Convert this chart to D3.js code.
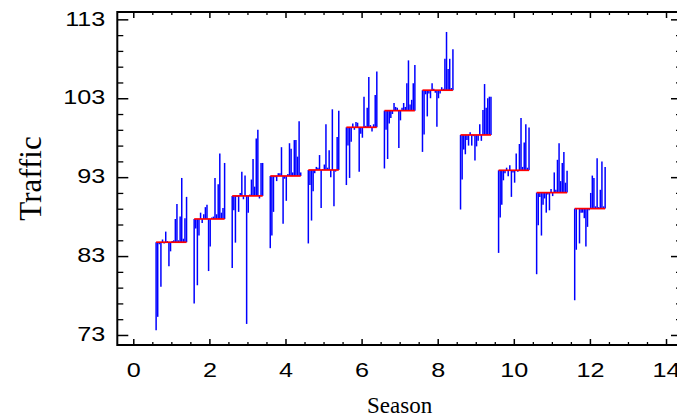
<!DOCTYPE html>
<html>
<head>
<meta charset="utf-8">
<script src="https://cdn.jsdelivr.net/npm/d3@7"></script>
<style>
  html, body { margin: 0; padding: 0; background: #fff; overflow: hidden; }
  svg { display: block; }
  .tick text { font-family: "Liberation Sans", Arial, sans-serif; font-size: 21px; fill: #000; }
  .title { font-family: "Liberation Serif", "Times New Roman", serif; fill: #000; }
</style>
</head>
<body>
<svg id="chart" width="677" height="417"></svg>
<script>
// Seasonal subseries plot: one block of yearly values per season,
// vertical lines from the season mean (red) to each value (blue).

const seasons = [1, 2, 3, 4, 5, 6, 7, 8, 9, 10, 11, 12];
const s1 = [73.6, 75.3, 84.5, 79.1, 85.1, 84.6, 86.1, 84.9, 81.7, 83.6, 84.9, 85.0, 87.7, 89.6, 85.0, 88.0, 92.9, 85.2, 87.8, 90.5];
const s2 = [77.0, 86.5, 79.3, 85.6, 88.5, 87.2, 88.3, 89.2, 89.5, 81.1, 84.2, 87.9, 88.0, 92.9, 88.3, 92.1, 96.0, 88.5, 89.1, 94.8];
const s3 = [81.5, 88.8, 84.7, 90.5, 88.6, 91.0, 93.7, 90.2, 93.2, 74.4, 88.5, 90.8, 92.7, 95.3, 91.8, 97.9, 99.0, 90.3, 94.8, 94.8];
const s4 = [84.0, 85.6, 88.6, 93.0, 92.5, 93.5, 93.5, 96.8, 87.1, 92.8, 90.0, 93.4, 97.3, 96.6, 93.6, 97.7, 97.7, 95.6, 100.1, 93.6];
const s5 = [84.6, 92.0, 87.5, 91.2, 93.5, 94.3, 94.2, 95.8, 89.1, 94.0, 94.6, 99.7, 94.2, 96.4, 93.0, 101.6, 89.3, 93.7, 98.1, 101.4];
const s6 = [92.0, 97.0, 92.9, 97.5, 99.8, 99.0, 100.0, 99.9, 93.7, 98.5, 98.0, 103.2, 99.5, 101.8, 105.7, 99.6, 98.8, 99.7, 103.4, 106.4];
const s7 = [94.1, 99.0, 95.3, 99.8, 100.5, 101.0, 102.4, 101.9, 101.8, 96.7, 100.2, 101.8, 102.4, 101.9, 104.9, 107.8, 102.2, 102.8, 104.9, 107.2];
const s8 = [96.2, 98.4, 103.5, 100.7, 103.6, 103.0, 104.9, 104.2, 103.7, 99.4, 103.0, 103.6, 104.4, 104.2, 108.0, 111.4, 106.7, 108.0, 104.3, 109.2];
const s9 = [88.9, 92.7, 96.5, 95.9, 97.7, 97.0, 98.7, 97.0, 98.2, 95.1, 96.9, 97.6, 99.7, 97.6, 101.5, 104.8, 101.8, 103.0, 103.2, 103.2];
const s10 = [83.4, 87.9, 89.5, 92.6, 93.5, 94.2, 93.1, 94.5, 90.5, 93.6, 92.3, 96.0, 93.7, 97.2, 100.5, 94.3, 97.4, 99.7, 94.2, 99.3];
const s11 = [80.7, 86.9, 90.5, 85.6, 89.5, 90.3, 88.5, 90.8, 88.8, 91.5, 90.6, 93.6, 91.4, 95.2, 97.3, 92.5, 94.8, 96.2, 92.3, 93.8];
const s12 = [77.4, 83.8, 89.0, 84.6, 88.5, 88.5, 87.8, 84.2, 86.7, 88.8, 91.0, 93.2, 92.9, 89.3, 95.4, 89.2, 91.4, 95.0, 89.3, 94.3];
const seasonValues = [s1, s2, s3, s4, s5, s6, s7, s8, s9, s10, s11, s12];

const xMajor = [0, 2, 4, 6, 8, 10, 12, 14];
const yMajor = [73, 83, 93, 103, 113];
const xMinor = d3.range(0.5, 14, 0.5).filter((v) => v % 2 !== 0);
const yMinor = d3.range(75, 113, 2).filter((v) => (v - 73) % 10 !== 0);

const L = 117.3, R = 682, T = 12, B = 345;
const HALF = 0.4; // half width of a season block, in x units

const svg = d3.select("#chart");
const x = d3.scaleLinear().domain([-0.42, 14.42]).range([L, R]);
const y = d3.scaleLinear().domain([71.73, 113.93]).range([B, T]);

// ---- axes, ticks pointing inward ----
function styleTicks(g, w) {
  g.select(".domain").remove();
  g.selectAll(".tick line").attr("stroke", "#000").attr("stroke-width", w);
}
svg.append("g").attr("transform", `translate(0,${B})`)
  .call(d3.axisBottom(x).tickValues(xMinor).tickSize(-3).tickFormat(""))
  .call((g) => styleTicks(g, 1.3));
svg.append("g").attr("transform", `translate(0,${T})`)
  .call(d3.axisTop(x).tickValues(xMinor).tickSize(-3).tickFormat(""))
  .call((g) => styleTicks(g, 1.3));
svg.append("g").attr("transform", `translate(0,${T})`)
  .call(d3.axisTop(x).tickValues(xMajor).tickSize(-6).tickFormat(""))
  .call((g) => styleTicks(g, 1.5));
const xAx = svg.append("g").attr("transform", `translate(0,${B})`)
  .call(d3.axisBottom(x).tickValues(xMajor).tickSize(-6).tickPadding(16.8)
    .tickFormat(d3.format("d")))
  .call((g) => styleTicks(g, 1.5));
xAx.selectAll(".tick text").attr("transform", "scale(1.2,1)");

svg.append("g").attr("transform", `translate(${L},0)`)
  .call(d3.axisLeft(y).tickValues(yMinor).tickSize(-6).tickFormat(""))
  .call((g) => styleTicks(g, 1.3));
svg.append("g").attr("transform", `translate(${R},0)`)
  .call(d3.axisRight(y).tickValues(yMinor).tickSize(-6).tickFormat(""))
  .call((g) => styleTicks(g, 1.3));
svg.append("g").attr("transform", `translate(${R},0)`)
  .call(d3.axisRight(y).tickValues(yMajor).tickSize(-11).tickFormat(""))
  .call((g) => styleTicks(g, 1.5));
const yAx = svg.append("g").attr("transform", `translate(${L},0)`)
  .call(d3.axisLeft(y).tickValues(yMajor).tickSize(-11).tickPadding(10)
    .tickFormat(d3.format("d")))
  .call((g) => styleTicks(g, 1.5));
yAx.selectAll(".tick text").attr("transform", "scale(1.2,1)").attr("dy", "0.27em");

// frame
svg.append("rect").attr("x", L).attr("y", T)
  .attr("width", R - L).attr("height", B - T)
  .attr("fill", "none").attr("stroke", "#000").attr("stroke-width", 2);

// ---- subseries ----
const blocks = seasons.map((s, i) => {
  const vals = seasonValues[i];
  const m = d3.mean(vals);
  const n = vals.length;
  return {
    season: s, mean: m,
    pts: vals.map((v, j) => ({ xv: s - HALF + (2 * HALF * j) / (n - 1), v, m })),
  };
});

svg.append("g").selectAll("line")
  .data(blocks.flatMap((b) => b.pts)).join("line")
  .attr("x1", (d) => x(d.xv)).attr("x2", (d) => x(d.xv))
  .attr("y1", (d) => y(d.m)).attr("y2", (d) => y(d.v))
  .attr("stroke", "#0000ff").attr("stroke-width", 1.5);

svg.append("g").selectAll("line")
  .data(blocks).join("line")
  .attr("x1", (d) => x(d.season - HALF)).attr("x2", (d) => x(d.season + HALF))
  .attr("y1", (d) => y(d.mean)).attr("y2", (d) => y(d.mean))
  .attr("stroke", "#ff0000").attr("stroke-width", 1.7);

// ---- titles ----
svg.append("text").attr("class", "title")
  .attr("x", (L + R) / 2).attr("y", 413)
  .attr("text-anchor", "middle").style("font-size", "23px")
  .text("Season");
svg.append("text").attr("class", "title")
  .attr("transform", `translate(40.5,${(T + B) / 2}) rotate(-90)`)
  .attr("text-anchor", "middle").style("font-size", "31px")
  .text("Traffic");
</script>
</body>
</html>
